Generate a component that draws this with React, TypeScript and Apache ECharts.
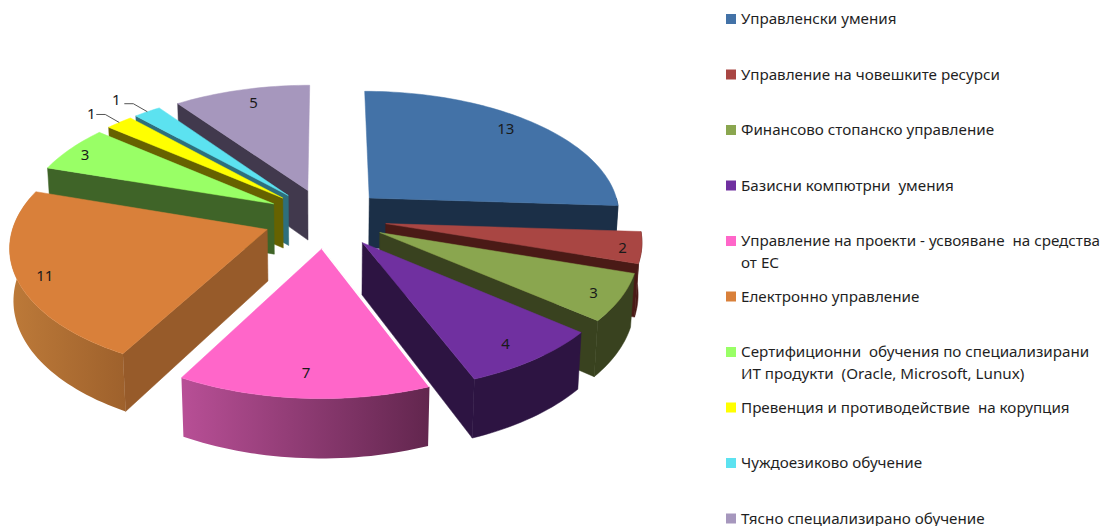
import React, { useEffect, useRef } from "react";
import * as echarts from "echarts";

const categories = [
  "Управленски умения",
  "Управление на човешките ресурси",
  "Финансово стопанско управление",
  "Базисни компютрни  умения",
  "Управление на проекти - усвояване  на средства\nот ЕС",
  "Електронно управление",
  "Сертифиционни  обучения по специализирани\nИТ продукти  (Oracle, Microsoft, Lunux)",
  "Превенция и противодействие  на корупция",
  "Чуждоезиково обучение",
  "Тясно специализирано обучение",
];
const values = [13, 2, 3, 4, 7, 11, 3, 1, 1, 5];

const topColors = ["#4372A7", "#A94643", "#8AA64F", "#7030A0", "#FF66C9", "#D9803A", "#99FF66", "#FFFF00", "#5CE2F0", "#A697BD"];
const wallColors = ["#1B2F47", "#4A1A16", "#39421F", "#2D1442", "#8F3A72", "#975B2A", "#3F6428", "#666200", "#2E6F7C", "#41394D"];
const arcGradients: Record<number, [string, string]> = { 4: ["#B84F96", "#62264E"], 5: ["#BD7A39", "#9E612C"] };
const paintOrder = [0, 1, 2, 3, 9, 8, 7, 6, 5, 4];
const labelRadius = [0.87, 0.95, 0.9, 0.85, 0.85, 0.93, 0.95, 1, 1, 0.85];
const labelNudge = [[-7, -4], [-6, 1], [-2, 1], [-1, 3], [0, -1], [10, 0], [5, 3], [1, 0], [-2, -3], [3, -2]];
const explodeBy = [0.24, 0.24, 0.24, 0.24, 0.24, 0.248, 0.24, 0.24, 0.24, 0.24];

const CX = 326, CY = 218, SX = 252, SY = 124, PERSP = 0.12, HEIGHT = 51, LEAN = 0.012;
const FONT = "'Noto Sans', sans-serif";
const rad = (d: number) => (d * Math.PI) / 180;
const total = values.reduce((a, b) => a + b, 0);
const starts: number[] = [];
values.reduce((acc, v, i) => { starts[i] = (acc / total) * 360; return acc + v; }, 0);

function project(X: number, Y: number, bottom = false): number[] {
  const w = 1 + PERSP * Y;
  if (!bottom) return [CX + (SX * X) / w, CY - (SY * Y) / w];
  return [CX + (SX * X) / (w + LEAN), CY - (SY * Y) / w + HEIGHT / w];
}

function renderSlice(params: any, api: any) {
  const i = params.dataIndex;
  const v = api.value(0);
  const a0 = starts[i];
  const a1 = a0 + (v / total) * 360;
  const mid = (a0 + a1) / 2;
  const ox = explodeBy[i] * Math.sin(rad(mid));
  const oy = explodeBy[i] * Math.cos(rad(mid));
  const at = (deg: number, r = 1, bottom = false) =>
    project(ox + r * Math.sin(rad(deg)), oy + r * Math.cos(rad(deg)), bottom);
  const arcAngles = (from: number, to: number) => {
    const n = Math.max(2, Math.ceil((to - from) / 1.5));
    return Array.from({ length: n + 1 }, (_, k) => from + ((to - from) * k) / n);
  };
  const base = paintOrder.indexOf(i) * 10;
  const children: any[] = [];
  const poly = (points: number[][], fill: any, z: number) =>
    children.push({ type: "polygon", z2: base + z, shape: { points }, style: { fill, stroke: typeof fill === "string" ? fill : undefined, lineWidth: 0.5 } });

  const wall = wallColors[i];
  const radialAngle = Math.sin(rad(a1)) > 0 ? a1 : Math.sin(rad(a0)) < 0 ? a0 : null;
  if (radialAngle !== null) {
    poly([at(0, 0), at(radialAngle), at(radialAngle, 1, true), at(0, 0, true)], wall, 1);
  }
  const from = Math.max(a0, 90), to = Math.min(a1, 285);
  if (to > from) {
    const angs = arcAngles(from, to);
    const pts = [...angs.map((d) => at(d)), ...angs.slice().reverse().map((d) => at(d, 1, true))];
    const g = arcGradients[i];
    const fill = g
      ? new echarts.graphic.LinearGradient(0, 0, 1, 0, [{ offset: 0, color: g[0] }, { offset: 1, color: g[1] }])
      : wall;
    poly(pts, fill, 2);
  }
  poly([at(0, 0), ...arcAngles(a0, a1).map((d) => at(d))], topColors[i], 3);
  if (i === 4) {
    children.push({ type: "line", z2: base + 4, shape: { x1: at(0, 0)[0], y1: at(0, 0)[1], x2: at(a0)[0], y2: at(a0)[1] }, style: { stroke: "#FFFFFF", lineWidth: 1.5 } });
  }

  const [nx, ny] = labelNudge[i];
  if (v === 1) {
    const p = at(mid);
    children.push({
      type: "polyline", z2: 200,
      shape: { points: [p, [p[0] - 14, p[1] - 8], [p[0] - 23, p[1] - 8]] },
      style: { stroke: "#555555", lineWidth: 1, fill: "none" },
    });
    children.push({ type: "text", z2: 201, x: p[0] - 29 + nx, y: p[1] - 9.5 + ny, style: { text: String(v), font: `15px ${FONT}`, fill: "#1A1A1A", align: "center", verticalAlign: "middle" } });
  } else {
    const p = at(mid, labelRadius[i]);
    children.push({ type: "text", z2: 201, x: p[0] + nx, y: p[1] + ny, style: { text: String(v), font: `15px ${FONT}`, fill: "#1A1A1A", align: "center", verticalAlign: "middle" } });
  }
  return { type: "group", children };
}

const LEG_Y0 = 19, LEG_STEP = 55.5;
const legendGraphics = categories.flatMap((name, i) => {
  const y = LEG_Y0 + LEG_STEP * i;
  const last = i === categories.length - 1;
  return [
    { type: "rect", x: 726, y: y - 5, shape: { width: 10, height: 10 }, style: { fill: topColors[i] } },
    {
      type: "text", x: 741, y: last ? 526 : y - 12,
      style: { text: name, font: `15.2px ${FONT}`, lineHeight: last ? 17 : 22, fill: "#1F1F1F", align: "left", verticalAlign: last ? "bottom" : "top" },
    },
  ];
});

export default function App() {
  const ref = useRef<HTMLDivElement>(null);
  useEffect(() => {
    const chart = echarts.init(ref.current!, undefined, { renderer: "svg" });
    chart.setOption({
      animation: false,
      backgroundColor: "#FFFFFF",
      graphic: legendGraphics,
      series: [
        {
          type: "custom",
          coordinateSystem: "none",
          renderItem: renderSlice,
          data: values.map((v, i) => ({ name: categories[i], value: [v] })),
          silent: true,
        },
      ],
    });
    return () => chart.dispose();
  }, []);
  return <div ref={ref} style={{ position: "absolute", left: 0, top: 0, width: 1102, height: 526 }} />;
}
